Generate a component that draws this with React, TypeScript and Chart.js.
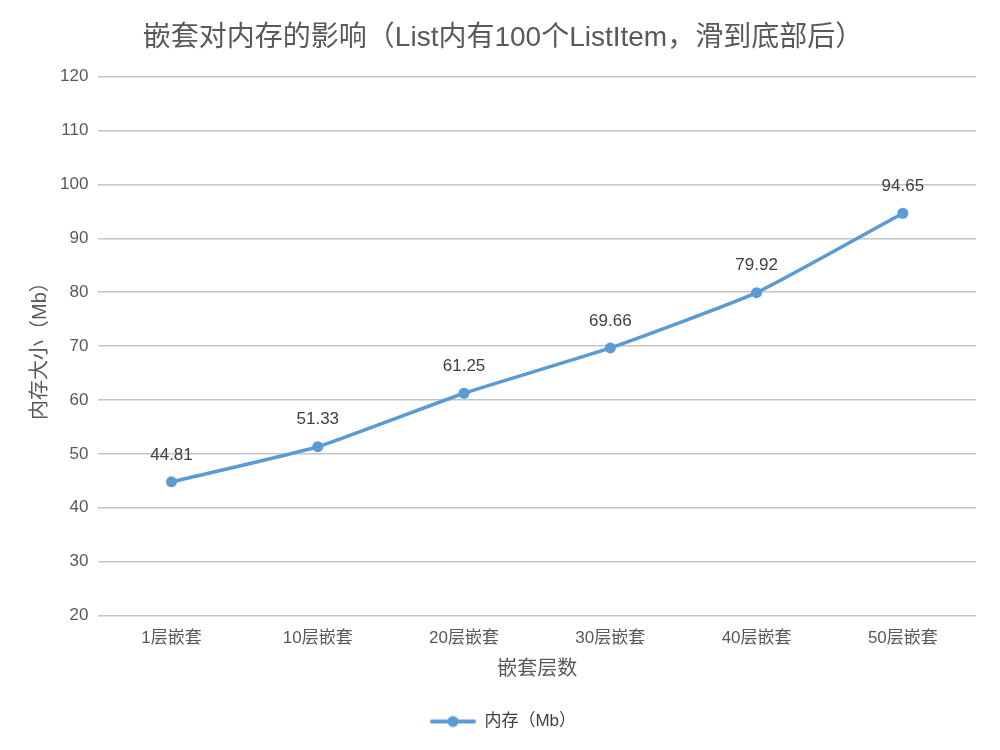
import React, { useEffect, useRef } from 'react';
import { Chart, registerables } from 'chart.js';

Chart.register(...registerables);

const categories = ['1层嵌套', '10层嵌套', '20层嵌套', '30层嵌套', '40层嵌套', '50层嵌套'];
const memory = [44.81, 51.33, 61.25, 69.66, 79.92, 94.65];

const FONT = '"Liberation Sans", "Noto Sans CJK SC", sans-serif';
const LINE = '#5b9bd5';

// legend marker: a short line with a dot in the middle
function makeMarker(): HTMLCanvasElement {
  const c = document.createElement('canvas');
  c.width = 46;
  c.height = 14;
  const g = c.getContext('2d')!;
  g.strokeStyle = LINE;
  g.lineWidth = 4;
  g.lineCap = 'round';
  g.beginPath();
  g.moveTo(2, 7);
  g.lineTo(44, 7);
  g.stroke();
  g.fillStyle = LINE;
  g.beginPath();
  g.arc(23, 7, 5.5, 0, Math.PI * 2);
  g.fill();
  return c;
}

const valueLabels = {
  id: 'valueLabels',
  afterDatasetsDraw(chart: Chart) {
    const ctx = chart.ctx;
    const meta = chart.getDatasetMeta(0);
    ctx.save();
    ctx.font = `17px ${FONT}`;
    ctx.fillStyle = '#404040';
    ctx.textAlign = 'center';
    ctx.textBaseline = 'middle';
    meta.data.forEach((pt: any, i: number) => {
      ctx.fillText(memory[i].toFixed(2), pt.x, pt.y - 27);
    });
    ctx.restore();
  },
};

export default function App() {
  const canvasRef = useRef<HTMLCanvasElement>(null);
  const chartRef = useRef<Chart | null>(null);

  useEffect(() => {
    if (!canvasRef.current) return;
    if (chartRef.current) chartRef.current.destroy();
    const marker = makeMarker();

    chartRef.current = new Chart(canvasRef.current, {
      type: 'line',
      data: {
        labels: categories,
        datasets: [
          {
            label: '内存（Mb）',
            data: memory,
            borderColor: LINE,
            backgroundColor: LINE,
            borderWidth: 3.5,
            pointRadius: 5.5,
            pointBackgroundColor: LINE,
            pointBorderWidth: 0,
            tension: 0.15,
          },
        ],
      },
      options: {
        responsive: false,
        animation: false,
        layout: { padding: { left: 30, right: 24, top: 0, bottom: 10 } },
        plugins: {
          title: {
            display: true,
            text: '嵌套对内存的影响（List内有100个ListItem，滑到底部后）',
            color: '#595959',
            font: { family: FONT, size: 28, weight: 'normal' },
            padding: { top: 21, bottom: 22 },
          },
          legend: {
            position: 'bottom',
            labels: {
              color: '#404040',
              font: { family: FONT, size: 17 },
              usePointStyle: true,
              pointStyleWidth: 46,
              padding: 10,
              generateLabels: (chart: Chart) =>
                chart.data.datasets.map((ds, i) => ({
                  text: ds.label as string,
                  pointStyle: marker,
                  fillStyle: LINE,
                  strokeStyle: LINE,
                  lineWidth: 0,
                  hidden: false,
                  datasetIndex: i,
                  fontColor: '#404040',
                })),
            },
          },
          tooltip: { enabled: false },
        },
        scales: {
          x: {
            offset: true,
            grid: { display: false, drawTicks: false },
            border: { display: false },
            ticks: { color: '#595959', font: { family: FONT, size: 17 }, padding: 13 },
            title: {
              display: true,
              text: '嵌套层数',
              color: '#595959',
              font: { family: FONT, size: 20 },
              padding: { top: -5, bottom: 22 },
            },
          },
          y: {
            min: 20,
            max: 120,
            ticks: { stepSize: 10, color: '#595959', font: { family: FONT, size: 17 }, padding: 10 },
            grid: { color: '#c4c4c4', lineWidth: 1.6, drawTicks: false },
            border: { display: false },
            title: {
              display: true,
              text: '内存大小（Mb）',
              color: '#595959',
              font: { family: FONT, size: 20, lineHeight: 1 },
              padding: { top: 0, bottom: 0 },
            },
          },
        },
      },
      plugins: [valueLabels],
    });

    return () => {
      if (chartRef.current) {
        chartRef.current.destroy();
        chartRef.current = null;
      }
    };
  }, []);

  return (
    <div style={{ position: 'absolute', left: 0, top: 0, width: 1000, height: 750, background: '#fff' }}>
      <canvas ref={canvasRef} width={1000} height={750} />
    </div>
  );
}
